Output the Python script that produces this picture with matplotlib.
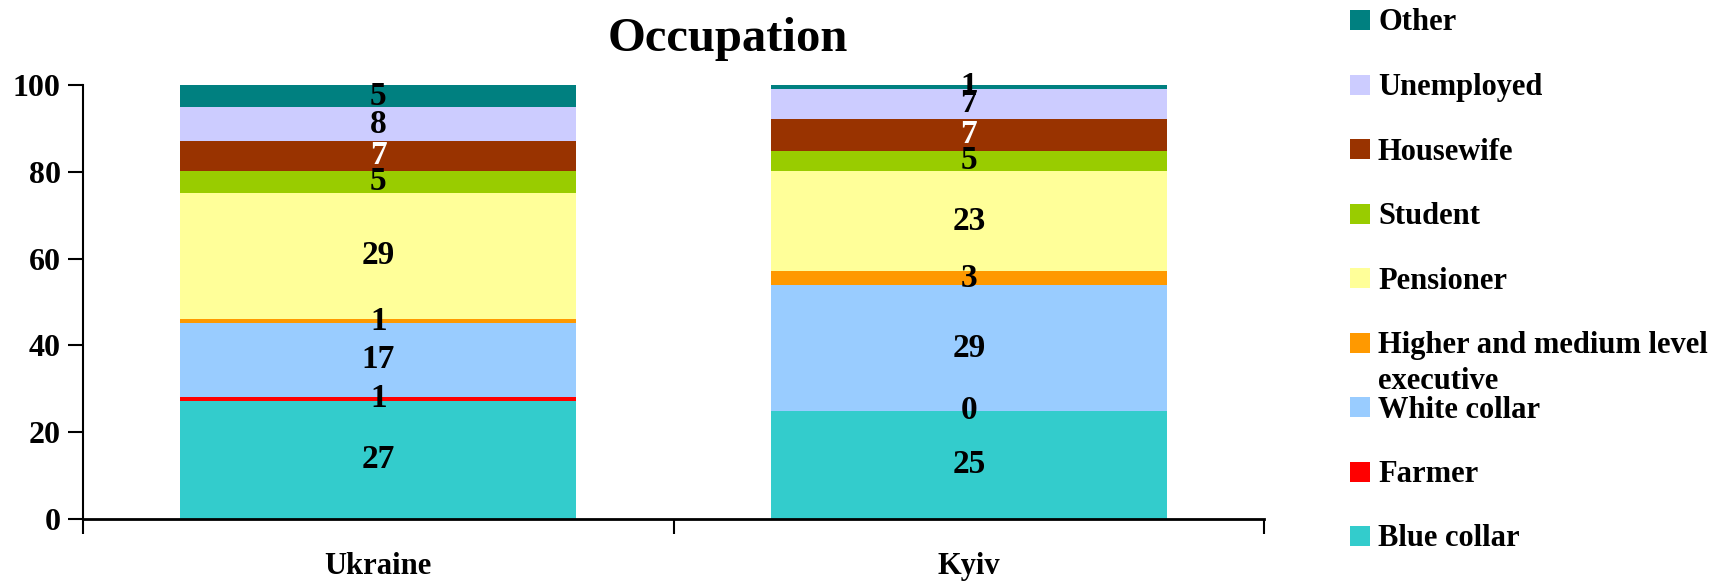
import numpy as np
import matplotlib
matplotlib.use("Agg")
import matplotlib.pyplot as plt
from matplotlib.patches import Rectangle

plt.rcParams['font.family'] = ['Liberation Serif', 'DejaVu Serif']
plt.rcParams['font.weight'] = 'bold'

regions = ['Ukraine', 'Kyiv']
occupations = ['Blue collar', 'Farmer', 'White collar',
               'Higher and medium level\nexecutive', 'Pensioner', 'Student',
               'Housewife', 'Unemployed', 'Other']
ukraine = [27.3, 0.9, 16.9, 1.0, 29.1, 5.0, 6.9, 7.8, 5.1]
kyiv = [24.9, 0.0, 29.0, 3.2, 23.1, 4.6, 7.4, 6.9, 0.9]
colors = ['#33CCCC', '#FF0000', '#99CCFF', '#FF9900', '#FFFF99',
          '#99CC00', '#993300', '#CCCCFF', '#008080']
label_colors = ['black'] * 6 + ['white', 'black', 'black']

values = np.array([ukraine, kyiv]).T  # rows = occupations, cols = regions

W, H = 1729, 586
fig = plt.figure(figsize=(W / 100, H / 100), dpi=100)
ax = fig.add_axes([83 / W, 1 - 519 / H, (1264 - 83) / W, (519 - 85) / H])

x = np.arange(len(regions))
bottom = np.zeros(len(regions))
for i, occ in enumerate(occupations):
    ax.bar(x, values[i], bottom=bottom, width=0.67, color=colors[i],
           edgecolor='none', label=occ)
    for xi, b, v in zip(x, bottom, values[i]):
        ax.text(xi, b + v / 2, f'{v:.0f}', ha='center', va='center',
                fontsize=24, fontweight='bold', color=label_colors[i])
    bottom += values[i]

ax.set_xlim(-0.5, 1.5)
ax.set_ylim(0, 100)
ax.set_yticks([0, 20, 40, 60, 80, 100])
ax.tick_params(axis='y', direction='out', length=11, width=1.5, labelsize=23, pad=5)
for lbl in ax.get_yticklabels():
    lbl.set_fontweight('bold')

# category boundaries carry the ticks, names sit between them
ax.set_xticks([-0.5, 0.5, 1.5])
ax.set_xticklabels([])
ax.tick_params(axis='x', which='major', direction='out', length=11, width=1.5)
ax.set_xticks(x, minor=True)
ax.set_xticklabels(regions, minor=True, fontsize=22, fontweight='bold')
ax.tick_params(axis='x', which='minor', length=0, pad=24)

ax.spines['top'].set_visible(False)
ax.spines['right'].set_visible(False)
ax.spines['left'].set_linewidth(1.5)
ax.spines['bottom'].set_linewidth(2)

fig.text(728 / W, 1 - 51 / H, 'Occupation', ha='center', va='baseline',
         fontsize=35, fontweight='bold')

# legend, top entry first
for k, i in enumerate(range(len(occupations) - 1, -1, -1)):
    yc = 20 + 64.5 * k
    fig.patches.append(Rectangle((1350 / W, 1 - (yc + 10) / H), 20 / W, 20 / H,
                                 transform=fig.transFigure, facecolor=colors[i],
                                 edgecolor='none'))
    for j, line in enumerate(occupations[i].split('\n')):
        fig.text(1378 / W, 1 - (yc + 10.5 + 36 * j) / H, line, ha='left',
                 va='baseline', fontsize=22, fontweight='bold')

fig.savefig('out.png', dpi=100)
